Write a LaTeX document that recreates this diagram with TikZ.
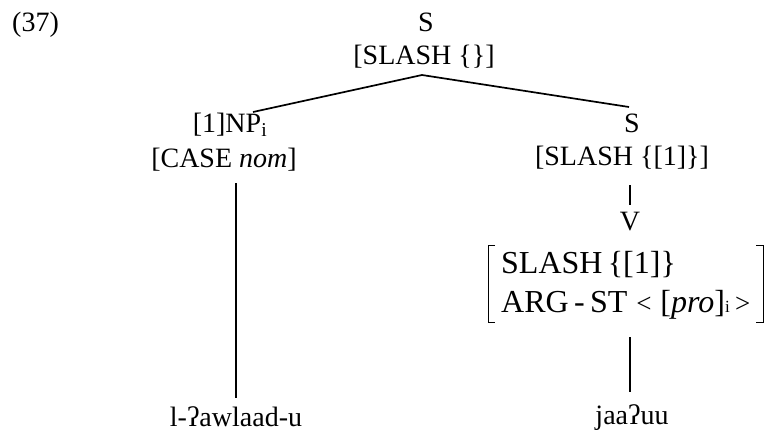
\documentclass[tikz,border=0pt]{standalone}
\usepackage{fontspec}
\setmainfont{Liberation Serif}
\usetikzlibrary{calc}
\newcommand{\tsz}{\fontsize{28}{34}\selectfont}
\newcommand{\avmsz}{\fontsize{32}{38}\selectfont}
\newcommand{\angsz}{\fontsize{27}{30}\selectfont}
\tikzset{
  lbl/.style={inner sep=0pt, font=\tsz},
  avmrow/.style={inner sep=0pt, font=\avmsz, anchor=west},
  branch/.style={line width=1.7pt},
  brk/.style={line width=0.9pt}
}
\begin{document}
\begin{tikzpicture}[x=1pt,y=-1pt]
\useasboundingbox (0,0) rectangle (765,434);
% example number
\node[lbl, anchor=west] (num) at (12,25) {(37)};
% root
\node[lbl] (rootS) at (426,22) {S};
\node[lbl] (rootF) at (424,57) {[SLASH \{\}]};
% left daughter
\node[lbl] (np) at (230,125) {[1]NP\textsubscript{i}};
\node[lbl] (npF) at (224,160) {[CASE \textit{nom}]};
% right daughter
\node[lbl] (rS) at (632,123) {S};
\node[lbl] (rF) at (622,158) {[SLASH \{[1]\}]};
\node[lbl] (v) at (630,222) {V};
\node[avmrow] (row1) at (501,265) {SLASH\,\{[1]\}};
\node[avmrow] (row2) at (501,305) {ARG\,-\,ST\;{\angsz<}\;[\textit{pro}]{\fontsize{17}{19}\selectfont i}\,{\angsz>}};
% leaves
\node[lbl] (w1) at (236,417) {l-ʔawlaad-u};
\node[lbl] (w2) at (632,418) {jaaʔuu};
% connector ends
\coordinate (apex) at (422,75);
\coordinate (npTop) at (253,112);
\coordinate (rsTop) at (629,107);
\coordinate (npBot) at (236,183);
\coordinate (w1Top) at (236,398);
\coordinate (rfBot) at (630,185);
\coordinate (vTop) at (630,205);
\coordinate (avmBot) at (630,337);
\coordinate (w2Top) at (630,392);
% AVM brackets
\coordinate (bl) at (488,245);
\coordinate (br) at (763,245);
\draw[brk] ($(bl)+(7,0)$) -- (bl) -- ($(bl)+(0,77)$) -- ($(bl)+(7,77)$);
\draw[brk] ($(br)+(-7,0)$) -- (br) -- ($(br)+(0,77)$) -- ($(br)+(-7,77)$);
% branches
\draw[branch] (npTop) -- (apex) -- (rsTop);
\draw[branch] (npBot) -- (w1Top);
\draw[branch] (rfBot) -- (vTop);
\draw[branch] (avmBot) -- (w2Top);
\end{tikzpicture}
\end{document}
